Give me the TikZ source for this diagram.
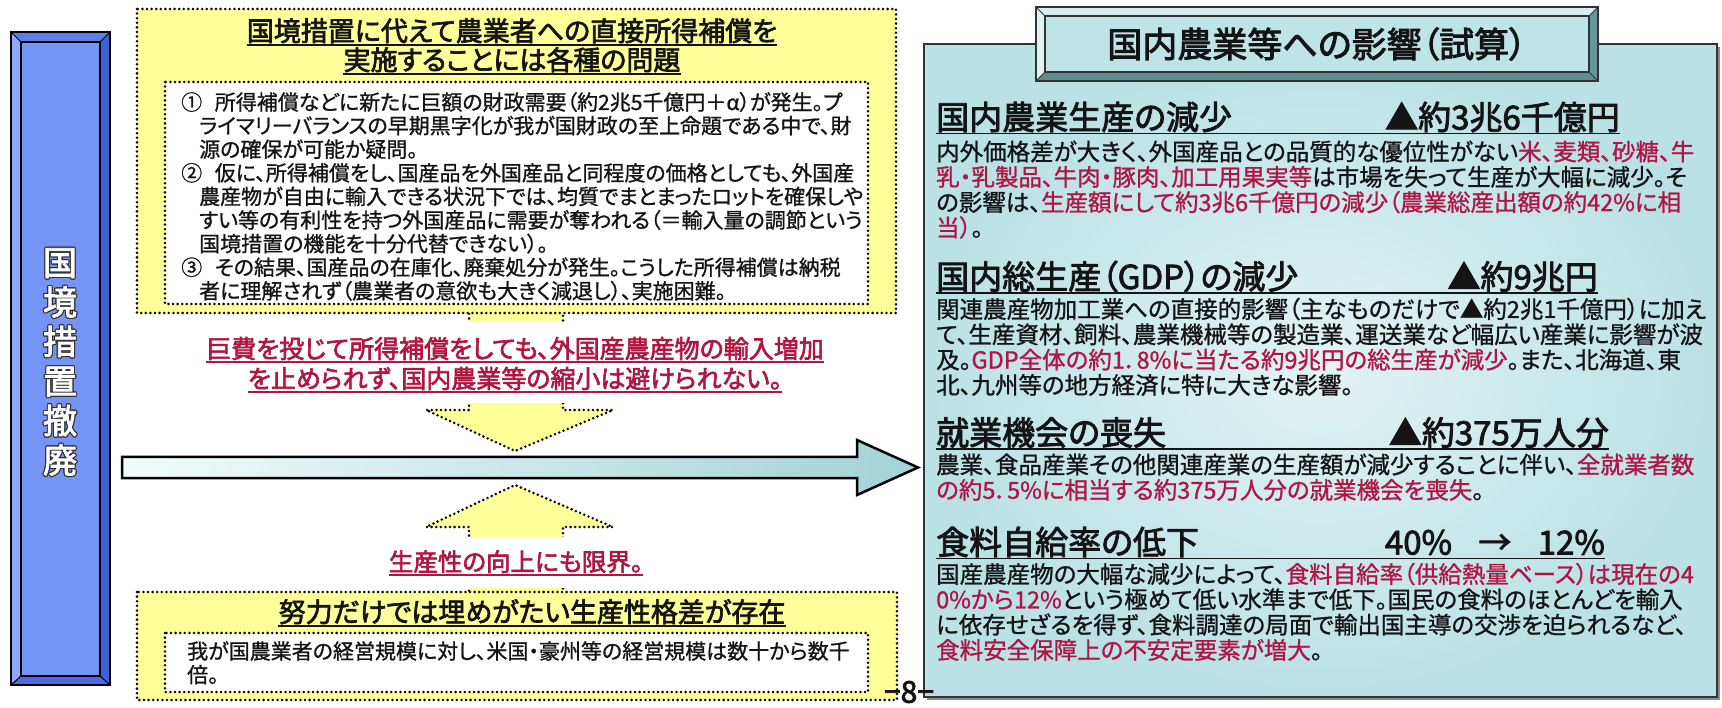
\documentclass[tikz,border=0pt]{standalone}
\usepackage{fontspec}
\setmainfont{Noto Sans CJK JP}[RawFeature=+palt, FakeBold=1]
\newfontfamily\medfam{Noto Sans CJK JP}[RawFeature=+palt, FakeBold=2.5]
\definecolor{yfill}{RGB}{255,255,153}
\definecolor{crim}{RGB}{176,22,68}
\definecolor{tcol}{RGB}{20,20,20}
\definecolor{pface}{RGB}{116,148,246}
\definecolor{pbevT}{RGB}{92,126,232}
\definecolor{pbevL}{RGB}{142,168,255}
\definecolor{pbevR}{RGB}{62,98,214}
\definecolor{pbevB}{RGB}{74,108,224}
\definecolor{tface}{RGB}{191,228,231}
\definecolor{tbevT}{RGB}{212,238,240}
\definecolor{tbevL}{RGB}{224,243,244}
\definecolor{tbevR}{RGB}{104,150,155}
\definecolor{tbevB}{RGB}{94,140,145}
\definecolor{rin}{RGB}{226,243,244}
\definecolor{rout}{RGB}{186,225,229}
\definecolor{arrL}{RGB}{242,251,251}
\definecolor{arrR}{RGB}{163,210,215}
\newcommand\redtx[1]{\textcolor{crim}{#1}}
\newcommand\hdfont{\medfam\fontsize{33}{36}\selectfont}
\newcommand\bdfont{\fontsize{23.5}{25.3}\selectfont}
\newcommand\lbfont{\fontsize{21}{23.6}\selectfont}
\tikzset{
  dotbox/.style={draw=black, line width=2.8pt, dash pattern=on 0pt off 4.6pt, line cap=round},
  txt/.style={inner sep=0pt, text=tcol},
  ulne/.style={line width=1.6pt, draw=tcol},
  rulne/.style={line width=1.6pt, draw=crim},
}
\begin{document}
\begin{tikzpicture}[x=1pt,y=-1pt]
\useasboundingbox (0,0) rectangle (1722,708);

% ---------- pillar ----------
\fill[pface] (21,42) rectangle (100,676);
\fill[pbevT] (11,32) -- (110,32) -- (100,42) -- (21,42) -- cycle;
\fill[pbevL] (11,32) -- (21,42) -- (21,676) -- (11,685) -- cycle;
\fill[pbevR] (110,32) -- (110,685) -- (100,676) -- (100,42) -- cycle;
\fill[pbevB] (11,685) -- (110,685) -- (100,676) -- (21,676) -- cycle;
\draw[line width=1.4pt] (11,32) rectangle (110,685);
\draw[line width=1.2pt] (21,42) rectangle (100,676);
\draw[line width=1pt] (11,32) -- (21,42) (110,32) -- (100,42) (11,685) -- (21,676) (110,685) -- (100,676);
\foreach \dx/\dy [count=\i] in {-1.2/0,1.2/0,0/-1.2,0/1.2,-0.9/-0.9,0.9/0.9,-0.9/0.9,0.9/-0.9}{
  \node[inner sep=0pt, align=center, text=black!80, font=\medfam\fontsize{34}{39.5}\selectfont] (ps\i) at (60+\dx,362+\dy) {国\\境\\措\\置\\撤\\廃};
}
\node[inner sep=0pt, align=center, text=white, font=\medfam\fontsize{34}{39.5}\selectfont] (pillar) at (60,362) {国\\境\\措\\置\\撤\\廃};

% ---------- arrows (yellow) ----------
\path[fill=yfill, dotbox] (469,300) -- (469,410) -- (426,410) -- (515,451) -- (613,410) -- (563,410) -- (563,300);
\path[fill=yfill, dotbox] (469,600) -- (469,527) -- (426,527) -- (515,485) -- (613,527) -- (563,527) -- (563,600);

% ---------- top yellow box ----------
\draw[fill=yfill, dotbox] (137,9) rectangle (896,313);
\draw[fill=white, dotbox] (165,82) rectangle (868,304);
\node[txt, anchor=base, font=\medfam\fontsize{27}{30}\selectfont] (t1) at (512,41) {国境措置に代えて農業者への直接所得補償を};
\node[txt, anchor=base, font=\medfam\fontsize{27}{30}\selectfont] (t2) at (512,70) {実施することには各種の問題};
\draw[ulne] ([yshift=-4pt]t1.base west) -- ([yshift=-4pt]t1.base east);
\draw[ulne] ([yshift=-4pt]t2.base west) -- ([yshift=-4pt]t2.base east);
\node[txt, anchor=base west, font=\lbfont] (tb) at (181,110) {\vtop{%
\hbox{①\hspace{0.6em}所得補償などに新たに巨額の財政需要（約2兆5千億円＋α）が発生。プ}
\hbox{\hspace*{18pt}ライマリーバランスの早期黒字化が我が国財政の至上命題である中で、財}
\hbox{\hspace*{18pt}源の確保が可能か疑問。}
\hbox{②\hspace{0.6em}仮に、所得補償をし、国産品を外国産品と同程度の価格としても、外国産}
\hbox{\hspace*{18pt}農産物が自由に輸入できる状況下では、均質でまとまったロットを確保しや}
\hbox{\hspace*{18pt}すい等の有利性を持つ外国産品に需要が奪われる（＝輸入量の調節という}
\hbox{\hspace*{18pt}国境措置の機能を十分代替できない）。}
\hbox{③\hspace{0.6em}その結果、国産品の在庫化、廃棄処分が発生。こうした所得補償は納税}
\hbox{\hspace*{18pt}者に理解されず（農業者の意欲も大きく減退し）、実施困難。}}};

% ---------- red statements ----------
\fill[white] (195,322) rectangle (835,403);
\node[txt, text=crim, anchor=base, font=\medfam\fontsize{25}{28}\selectfont] (r1) at (515,358) {巨費を投じて所得補償をしても、外国産農産物の輸入増加};
\node[txt, text=crim, anchor=base, font=\medfam\fontsize{25}{28}\selectfont] (r2) at (515,388) {を止められず、国内農業等の縮小は避けられない。};
\draw[rulne] ([yshift=-4pt]r1.base west) -- ([yshift=-4pt]r1.base east);
\draw[rulne] ([yshift=-4pt]r2.base west) -- ([yshift=-4pt]r2.base east);

\fill[white] (380,537) rectangle (650,588);
\node[txt, text=crim, anchor=base, font=\medfam\fontsize{24.5}{28}\selectfont] (r3) at (516,571) {生産性の向上にも限界。};
\draw[rulne] ([yshift=-4pt]r3.base west) -- ([yshift=-4pt]r3.base east);

% ---------- bottom yellow box ----------
\draw[fill=yfill, dotbox] (137,592) rectangle (897,700);
\draw[fill=white, dotbox] (165,633) rectangle (868,692);
\node[txt, anchor=base, font=\medfam\fontsize{27}{30}\selectfont] (t3) at (532,622) {努力だけでは埋めがたい生産性格差が存在};
\draw[ulne] ([yshift=-4pt]t3.base west) -- ([yshift=-4pt]t3.base east);
\node[txt, anchor=base west, font=\lbfont] (bb) at (187,659) {\vtop{%
\hbox{我が国農業者の経営規模に対し、米国・豪州等の経営規模は数十から数千}
\hbox{倍。}}};

% ---------- big horizontal arrow ----------
\draw[line width=2.5pt, line join=miter, left color=arrL, right color=arrR] (122,457) -- (857,457) -- (857,440) -- (918,467.5) -- (857,495) -- (857,478) -- (122,478) -- cycle;

% ---------- right box ----------
\fill[black!45] (927,47) rectangle (1720,700);
\draw[line width=1.8pt, draw=black!80, inner color=rin, outer color=rout] (924,44) rectangle (1717,697);

% tab
\fill[tface] (1045,16) rectangle (1589,72);
\fill[tbevT] (1036,7) -- (1598,7) -- (1589,16) -- (1045,16) -- cycle;
\fill[tbevL] (1036,7) -- (1045,16) -- (1045,72) -- (1036,81) -- cycle;
\fill[tbevR] (1598,7) -- (1598,81) -- (1589,72) -- (1589,16) -- cycle;
\fill[tbevB] (1036,81) -- (1598,81) -- (1589,72) -- (1045,72) -- cycle;
\draw[line width=1.5pt, draw=black!80] (1036,7) rectangle (1598,81);
\draw[line width=1.2pt, draw=black!80] (1045,16) rectangle (1589,72);
\draw[line width=0.8pt, draw=black!80] (1036,7) -- (1045,16) (1598,7) -- (1589,16) (1036,81) -- (1045,72) (1598,81) -- (1589,72);
\node[txt, font=\medfam\fontsize{35}{38}\selectfont] (tab) at (1317,44) {国内農業等への影響（試算）};

% section 1
\node[txt, anchor=base west, font=\hdfont] (h1) at (936,129.5) {国内農業生産の減少};
\node[txt, anchor=base east, font=\hdfont] (h1r) at (1620,129.5) {▲約3兆6千億円};
\draw[ulne] ([yshift=-4pt]h1.base west) -- ([yshift=-4pt]h1r.base east);
\node[txt, anchor=base west, font=\bdfont] (p1) at (936,160.5) {\vtop{%
\hbox{内外価格差が大きく、外国産品との品質的な優位性がない\redtx{米、麦類、砂糖、牛}}
\hbox{\redtx{乳・乳製品、牛肉・豚肉、加工用果実等}は市場を失って生産が大幅に減少。そ}
\hbox{の影響は、\redtx{生産額にして約3兆6千億円の減少（農業総産出額の約42\%に相}}
\hbox{\redtx{当）}。}}};

% section 2
\node[txt, anchor=base west, font=\hdfont] (h2) at (936,289) {国内総生産（GDP）の減少};
\node[txt, anchor=base east, font=\hdfont] (h2r) at (1598,289) {▲約9兆円};
\draw[ulne] ([yshift=-4pt]h2.base west) -- ([yshift=-4pt]h2r.base east);
\node[txt, anchor=base west, font=\bdfont] (p2) at (936,318) {\vtop{%
\hbox{関連農産物加工業への直接的影響（主なものだけで▲約2兆1千億円）に加え}
\hbox{て、生産資材、飼料、農業機械等の製造業、運送業など幅広い産業に影響が波}
\hbox{及。\redtx{GDP全体の約1．8\%に当たる約9兆円の総生産が減少}。また、北海道、東}
\hbox{北、九州等の地方経済に特に大きな影響。}}};

% section 3
\node[txt, anchor=base west, font=\hdfont] (h3) at (936,445) {就業機会の喪失};
\node[txt, anchor=base east, font=\hdfont] (h3r) at (1609,445) {▲約375万人分};
\draw[ulne] ([yshift=-4pt]h3.base west) -- ([yshift=-4pt]h3r.base east);
\node[txt, anchor=base west, font=\bdfont] (p3) at (936,473.5) {\vtop{%
\hbox{農業、食品産業その他関連産業の生産額が減少することに伴い、\redtx{全就業者数}}
\hbox{\redtx{の約5．5\%に相当する約375万人分の就業機会を喪失}。}}};

% section 4
\node[txt, anchor=base west, font=\hdfont] (h4) at (936,554.5) {食料自給率の低下};
\node[txt, anchor=base east, font=\hdfont] (h4r) at (1605,554.5) {40\%\hspace{0.8em}→\hspace{0.8em}12\%};
\draw[ulne] ([yshift=-4pt]h4.base west) -- ([yshift=-4pt]h4r.base east);
\node[txt, anchor=base west, font=\bdfont] (p4) at (936,583) {\vtop{%
\hbox{国産農産物の大幅な減少によって、\redtx{食料自給率（供給熱量ベース）は現在の4}}
\hbox{\redtx{0\%から12\%}という極めて低い水準まで低下。国民の食料のほとんどを輸入}
\hbox{に依存せざるを得ず、食料調達の局面で輸出国主導の交渉を迫られるなど、}
\hbox{\redtx{食料安全保障上の不安定要素が増大}。}}};

% page number
\node[txt, font=\medfam\fontsize{30}{32}\selectfont] (pg) at (909,692) {−8−};
\end{tikzpicture}
\end{document}
